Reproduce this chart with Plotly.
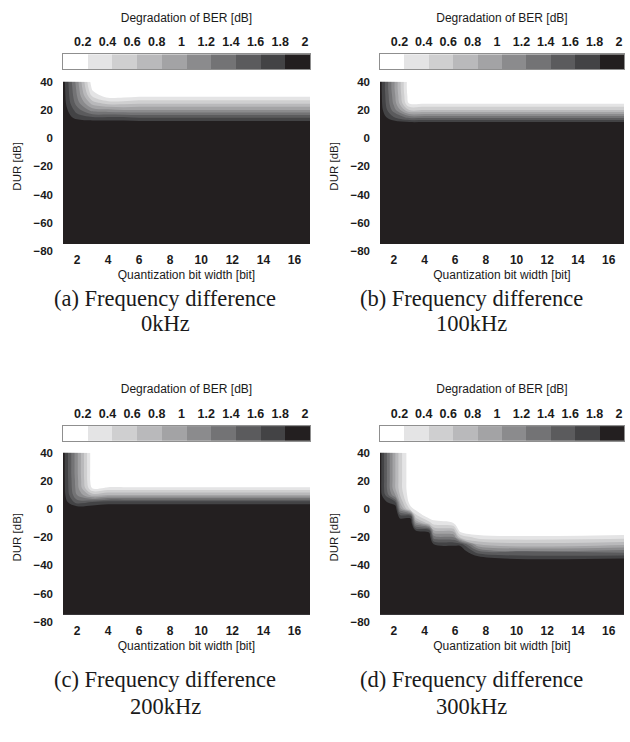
import plotly.graph_objects as go

# DUR grid (rows, top to bottom) shared by all panels
dur = [40, 35, 30, 25, 20, 15, 10, 5, 0, -5, -10, -15, -20, -25,
       -30, -35, -40, -45, -50, -55, -60, -65, -70, -75]

# Bit-width positions of the columns for each panel
bits_0khz = [1, 2, 3, 4, 5, 6, 7, 8, 9, 10, 11, 12, 13, 14, 15, 16, 17]
bits_100khz = [1, 2, 3, 4, 5, 6, 7, 8, 9, 10, 11, 12, 13, 14, 15, 16, 17]
bits_200khz = [1, 2, 3, 4, 5, 6, 7, 8, 9, 10, 11, 12, 13, 14, 15, 16, 17]
bits_300khz = [1, 2.1, 2.4, 3.1, 3.4, 4.3, 4.6, 5.9, 6.3, 7.5, 17]

# BER degradation [dB] per column, listed from DUR=40 downward;
# each column stays at 2 dB (saturated) below its last entry.
deg_0khz = [
    [2.0],
    [1.1, 1.15, 1.2, 1.3, 1.5, 1.7, 2.0],
    [0.05, 0.15, 0.35, 0.7, 1.1, 1.6, 2.0],
    [0.0, 0.01, 0.08, 0.5, 1.05, 1.6, 2.0],
    [0.0, 0.0, 0.1, 0.5, 1.0, 1.6, 2.0],
    [0.0, 0.0, 0.15, 0.55, 1.0, 1.55, 2.0],
    [0.0, 0.0, 0.15, 0.55, 1.0, 1.55, 2.0],
    [0.0, 0.0, 0.15, 0.55, 1.0, 1.55, 2.0],
    [0.0, 0.0, 0.15, 0.55, 1.0, 1.55, 2.0],
    [0.0, 0.0, 0.15, 0.55, 1.0, 1.55, 2.0],
    [0.0, 0.0, 0.15, 0.55, 1.0, 1.55, 2.0],
    [0.0, 0.0, 0.15, 0.55, 1.0, 1.55, 2.0],
    [0.0, 0.0, 0.15, 0.55, 1.0, 1.55, 2.0],
    [0.0, 0.0, 0.15, 0.55, 1.0, 1.55, 2.0],
    [0.0, 0.0, 0.15, 0.55, 1.0, 1.55, 2.0],
    [0.0, 0.0, 0.15, 0.55, 1.0, 1.55, 2.0],
    [0.0, 0.0, 0.15, 0.55, 1.0, 1.55, 2.0],
]

deg_100khz = [
    [2.0],
    [1.05, 1.05, 1.1, 1.15, 1.3, 1.6, 2.0],
    [0.05, 0.05, 0.08, 0.15, 0.6, 1.3, 2.0],
    [0.0, 0.0, 0.0, 0.15, 0.6, 1.3, 2.0],
    [0.0, 0.0, 0.0, 0.15, 0.6, 1.3, 2.0],
    [0.0, 0.0, 0.0, 0.15, 0.6, 1.3, 2.0],
    [0.0, 0.0, 0.0, 0.15, 0.6, 1.3, 2.0],
    [0.0, 0.0, 0.0, 0.15, 0.6, 1.3, 2.0],
    [0.0, 0.0, 0.0, 0.15, 0.6, 1.3, 2.0],
    [0.0, 0.0, 0.0, 0.15, 0.6, 1.3, 2.0],
    [0.0, 0.0, 0.0, 0.15, 0.6, 1.3, 2.0],
    [0.0, 0.0, 0.0, 0.15, 0.6, 1.3, 2.0],
    [0.0, 0.0, 0.0, 0.15, 0.6, 1.3, 2.0],
    [0.0, 0.0, 0.0, 0.15, 0.6, 1.3, 2.0],
    [0.0, 0.0, 0.0, 0.15, 0.6, 1.3, 2.0],
    [0.0, 0.0, 0.0, 0.15, 0.6, 1.3, 2.0],
    [0.0, 0.0, 0.0, 0.15, 0.6, 1.3, 2.0],
]

deg_200khz = [
    [2.0],
    [1.05, 1.05, 1.05, 1.05, 1.08, 1.1, 1.2, 1.5, 2.0],
    [0.05, 0.05, 0.05, 0.05, 0.05, 0.15, 0.7, 1.6, 2.0],
    [0.0, 0.0, 0.0, 0.0, 0.02, 0.22, 0.8, 1.7, 2.0],
    [0.0, 0.0, 0.0, 0.0, 0.02, 0.22, 0.8, 1.7, 2.0],
    [0.0, 0.0, 0.0, 0.0, 0.02, 0.22, 0.8, 1.7, 2.0],
    [0.0, 0.0, 0.0, 0.0, 0.02, 0.22, 0.8, 1.7, 2.0],
    [0.0, 0.0, 0.0, 0.0, 0.02, 0.22, 0.8, 1.7, 2.0],
    [0.0, 0.0, 0.0, 0.0, 0.02, 0.22, 0.8, 1.7, 2.0],
    [0.0, 0.0, 0.0, 0.0, 0.02, 0.22, 0.8, 1.7, 2.0],
    [0.0, 0.0, 0.0, 0.0, 0.02, 0.22, 0.8, 1.7, 2.0],
    [0.0, 0.0, 0.0, 0.0, 0.02, 0.22, 0.8, 1.7, 2.0],
    [0.0, 0.0, 0.0, 0.0, 0.02, 0.22, 0.8, 1.7, 2.0],
    [0.0, 0.0, 0.0, 0.0, 0.02, 0.22, 0.8, 1.7, 2.0],
    [0.0, 0.0, 0.0, 0.0, 0.02, 0.22, 0.8, 1.7, 2.0],
    [0.0, 0.0, 0.0, 0.0, 0.02, 0.22, 0.8, 1.7, 2.0],
    [0.0, 0.0, 0.0, 0.0, 0.02, 0.22, 0.8, 1.7, 2.0],
]

deg_300khz = [
    [2.0],
    [0.8, 0.8, 0.8, 0.8, 0.8, 0.8, 1.0, 1.6, 2.0],
    [0.5, 0.5, 0.5, 0.5, 0.5, 0.5, 0.6, 0.8, 1.1, 1.7, 2.0],
    [0.0, 0.0, 0.0, 0.0, 0.0, 0.0, 0.0, 0.05, 0.3, 1.7, 2.0],
    [0.0, 0.0, 0.0, 0.0, 0.0, 0.0, 0.0, 0.0, 0.15, 0.5, 1.1, 1.8, 2.0],
    [0.0, 0.0, 0.0, 0.0, 0.0, 0.0, 0.0, 0.0, 0.0, 0.05, 0.5, 1.7, 2.0],
    [0.0, 0.0, 0.0, 0.0, 0.0, 0.0, 0.0, 0.0, 0.0, 0.05, 0.3, 0.8, 1.3, 1.8, 2.0],
    [0.0, 0.0, 0.0, 0.0, 0.0, 0.0, 0.0, 0.0, 0.0, 0.0, 0.2, 0.7, 1.2, 1.75, 2.0],
    [0.0, 0.0, 0.0, 0.0, 0.0, 0.0, 0.0, 0.0, 0.0, 0.0, 0.0, 0.1, 0.6, 1.75, 2.0],
    [0.0, 0.0, 0.0, 0.0, 0.0, 0.0, 0.0, 0.0, 0.0, 0.0, 0.0, 0.0, 0.3, 0.8, 1.45, 1.95, 2.0],
    [0.0, 0.0, 0.0, 0.0, 0.0, 0.0, 0.0, 0.0, 0.0, 0.0, 0.0, 0.0, 0.3, 0.75, 1.3, 1.8, 2.0],
]

# Degradation scale: ten 0.2 dB steps
level_mid = [0.1, 0.3, 0.5, 0.7, 0.9, 1.1, 1.3, 1.5, 1.7, 1.9]
level_ticks = [0.2, 0.4, 0.6, 0.8, 1.0, 1.2, 1.4, 1.6, 1.8, 2.0]
level_labels = ["0.2", "0.4", "0.6", "0.8", "1", "1.2", "1.4", "1.6", "1.8", "2"]
x_ticks = [2, 4, 6, 8, 10, 12, 14, 16]
y_ticks = [40, 20, 0, -20, -40, -60, -80]

captions = [("(a) Frequency difference", "0kHz"),
            ("(b) Frequency difference", "100kHz"),
            ("(c) Frequency difference", "200kHz"),
            ("(d) Frequency difference", "300kHz")]

gray_steps = ["#ffffff", "#e4e4e5", "#cfcfd0", "#b9b9bb", "#a3a3a5",
              "#8b8b8d", "#737375", "#5b5b5d", "#434345", "#231f20"]

W, H = 630, 742
SANS = "Liberation Sans, Arial, sans-serif"
SERIF = "Liberation Serif, Times New Roman, serif"
INK = "#1a1a1a"


def grid_from_columns(cols, xs):
    """Turn per-column lists into a z[row][col] grid over the DUR rows."""
    full = [c + [2.0] * (len(dur) - len(c)) for c in cols]
    return [[full[j][i] for j in range(len(xs))] for i in range(len(dur))]


def stepped_scale(colors):
    scale = []
    n = len(colors)
    for i, c in enumerate(colors):
        scale.append([i / n, c])
        scale.append([(i + 1) / n, c])
    return scale


# panel placement in pixels: (left, right, top, bottom)
panels = [(63, 310, 77, 249), (380, 624, 77, 249),
          (63, 310, 454, 626), (380, 624, 454, 626)]
bar_px = [(49, 64), (49, 64), (427, 442), (427, 442)]
caption_px = [(165, 297, 323), (471, 297, 323), (165, 685, 712), (471, 685, 712)]
datasets = [(bits_0khz, deg_0khz), (bits_100khz, deg_100khz),
            (bits_200khz, deg_200khz), (bits_300khz, deg_300khz)]

fig = go.Figure()
scale = stepped_scale(gray_steps)
tick_font = dict(family=SANS, size=11.5, color=INK, weight="bold")
label_font = dict(family=SANS, size=12, color=INK)

for k, ((xs, cols), (l, r, t, b)) in enumerate(zip(datasets, panels)):
    ax = "" if k == 0 else str(k + 1)
    cb = str(k + 5)
    bt, bb = bar_px[k]

    # contour map of BER degradation
    fig.add_trace(go.Contour(
        x=xs, y=dur, z=grid_from_columns(cols, xs),
        xaxis="x" + ax, yaxis="y" + ax,
        zmin=0, zmax=2, zauto=False,
        colorscale=scale, showscale=False,
        contours=dict(start=0.2, end=1.8, size=0.2, coloring="fill", showlines=False),
        line=dict(width=0),
        hoverinfo="skip",
    ))
    fig.layout["xaxis" + ax] = dict(
        domain=[l / W, r / W], range=[1.1, 17], anchor="y" + ax,
        tickvals=x_ticks, showgrid=False, zeroline=False, showline=False,
        ticks="", ticklabelstandoff=0,
        tickfont=dict(family=SANS, size=12, color=INK, weight="bold"),
        title=dict(text="Quantization bit width [bit]", standoff=4, font=label_font),
    )
    fig.layout["yaxis" + ax] = dict(
        domain=[1 - b / H, 1 - t / H], range=[-80, 40], anchor="x" + ax,
        tickvals=y_ticks, showgrid=False, zeroline=False, showline=False,
        ticks="", ticklabelstandoff=9,
        tickfont=tick_font,
        title=dict(text="DUR [dB]", standoff=9,
                   font=dict(family=SANS, size=11.5, color=INK)),
    )

    # horizontal scale bar above the map
    fig.add_trace(go.Heatmap(
        x=level_mid, y=[0], z=[level_mid],
        xaxis="x" + cb, yaxis="y" + cb,
        zmin=0, zmax=2, colorscale=scale, showscale=False,
        hoverinfo="skip",
    ))
    fig.layout["xaxis" + cb] = dict(
        domain=[l / W, r / W], range=[0, 2], anchor="y" + cb, side="top",
        tickvals=level_ticks, ticktext=level_labels,
        showgrid=False, zeroline=False,
        showline=True, mirror=True, linecolor="#8f8f8f", linewidth=1,
        ticks="", ticklabelstandoff=2, ticklabelshift=-5,
        tickfont=dict(family=SANS, size=12.5, color=INK, weight="bold"),
        title=dict(text="Degradation of BER [dB]", standoff=10,
                   font=dict(family=SANS, size=12, color=INK)),
    )
    fig.layout["yaxis" + cb] = dict(
        domain=[1 - bb / H, 1 - bt / H], range=[-0.5, 0.5], anchor="x" + cb,
        showticklabels=False, showgrid=False, zeroline=False,
        showline=True, mirror=True, linecolor="#8f8f8f", linewidth=1, ticks="",
    )

annotations = []
for (cx, y1, y2), (line1, line2) in zip(caption_px, captions):
    for txt, yy in ((line1, y1), (line2, y2)):
        annotations.append(dict(
            text=txt, x=cx / W, y=1 - yy / H, xref="paper", yref="paper",
            xanchor="center", yanchor="middle", showarrow=False,
            font=dict(family=SERIF, size=22.5, color=INK),
        ))

fig.update_layout(
    width=W, height=H,
    margin=dict(l=0, r=0, t=0, b=0),
    paper_bgcolor="white", plot_bgcolor="white",
    showlegend=False,
    annotations=annotations,
)

fig.write_html("out.html")
